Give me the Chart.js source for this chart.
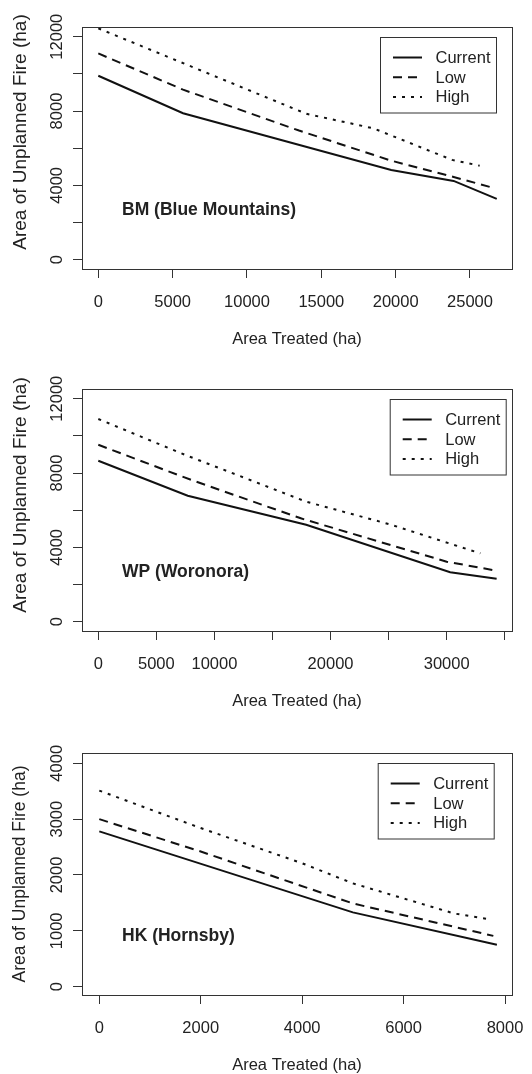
<!DOCTYPE html>
<html>
<head>
<meta charset="utf-8">
<script src="https://cdn.jsdelivr.net/npm/chart.js@4.4.1/dist/chart.umd.min.js"></script>
<style>
  body { margin: 0; background: #fff; }
  canvas { position: absolute; left: 0; }
</style>
</head>
<body>
<canvas id="bm" width="532" height="348" style="top:0px"></canvas>
<canvas id="wp" width="532" height="348" style="top:362px"></canvas>
<canvas id="hk" width="532" height="348" style="top:726px"></canvas>
<script>
// series names
const seriesNames = ["Current", "Low", "High"];

// BM (Blue Mountains)
const bmCurrentX = [0, 5700, 19700, 23900, 26800];
const bmCurrentY = [9900, 7880, 4830, 4240, 3270];
const bmLowX = [0, 5700, 13500, 19700, 23900, 26550];
const bmLowY = [11100, 9150, 6950, 5330, 4450, 3870];
const bmHighX = [0, 14000, 18500, 23800, 25650];
const bmHighY = [12450, 7850, 7070, 5370, 5060];

// WP (Woronora)
const wpCurrentX = [0, 7700, 17900, 30300, 34300];
const wpCurrentY = [8660, 6780, 5220, 2660, 2310];
const wpLowX = [0, 8000, 17500, 30000, 34000];
const wpLowY = [9520, 7630, 5550, 3230, 2780];
const wpHighX = [0, 7500, 17900, 25100, 32900];
const wpHighY = [10910, 8970, 6460, 5240, 3680];

// HK (Hornsby)
const hkCurrentX = [0, 5000, 7840];
const hkCurrentY = [2780, 1330, 750];
const hkLowX = [0, 2000, 5000, 7770];
const hkLowY = [3000, 2420, 1490, 910];
const hkHighX = [0, 2000, 4000, 5000, 7000, 7670];
const hkHighY = [3510, 2840, 2210, 1850, 1310, 1210];

// tick positions and labelled ticks
const bmXTicks = [0, 5000, 10000, 15000, 20000, 25000];
const wpXTicks = [0, 5000, 10000, 15000, 20000, 25000, 30000, 35000];
const hkXTicks = [0, 2000, 4000, 6000, 8000];
const bmXLabels = [0, 5000, 10000, 15000, 20000, 25000];
const wpXLabels = [0, 5000, 10000, 20000, 30000];
const hkXLabels = [0, 2000, 4000, 6000, 8000];
const bmYTicks = [0, 2000, 4000, 6000, 8000, 10000, 12000];
const wpYTicks = [0, 2000, 4000, 6000, 8000, 10000, 12000];
const hkYTicks = [0, 1000, 2000, 3000, 4000];
const bmYLabels = [0, 4000, 8000, 12000];
const wpYLabels = [0, 4000, 8000, 12000];
const hkYLabels = [0, 1000, 2000, 3000, 4000];

const FONT = '"Liberation Sans", Arial, Helvetica, sans-serif';
const TXT = '#222';
Chart.defaults.font.family = FONT;
Chart.defaults.color = TXT;

const dashes = [[], [9, 6], [3, 6]];

function pts(xs, ys) {
  return xs.map((x, i) => ({ x: x, y: ys[i] }));
}

const framePlugin = {
  id: 'frame',
  afterDraw(chart, args, opts) {
    const ctx = chart.ctx;
    const a = chart.chartArea;
    const ys = chart.scales.y;
    ctx.save();
    // plot box
    ctx.strokeStyle = '#333';
    ctx.lineWidth = 1;
    ctx.setLineDash([]);
    ctx.strokeRect(a.left + 0.5, a.top + 0.5, a.right - a.left, a.bottom - a.top);

    // rotated y tick labels
    ctx.fillStyle = TXT;
    ctx.font = '16.5px ' + FONT;
    ctx.textAlign = 'center';
    ctx.textBaseline = 'middle';
    opts.yLabels.forEach(v => {
      const py = ys.getPixelForValue(v);
      ctx.save();
      ctx.translate(57.5, py);
      ctx.rotate(-Math.PI / 2);
      ctx.fillText(String(v), 0, 0);
      ctx.restore();
    });

    // y axis title
    ctx.save();
    ctx.font = opts.yTitleSize + 'px ' + FONT;
    ctx.translate(20.5, opts.yTitleY);
    ctx.rotate(-Math.PI / 2);
    ctx.fillText('Area of Unplanned Fire (ha)', 0, 0);
    ctx.restore();

    // panel name
    ctx.font = 'bold 17.5px ' + FONT;
    ctx.textAlign = 'left';
    ctx.fillText(opts.name, a.left + 40, 210.5);

    // legend
    const bx = a.right - opts.legendRight - 116;
    const by = a.top + 10;
    ctx.strokeStyle = '#333';
    ctx.lineWidth = 1;
    ctx.strokeRect(bx + 0.5, by + 0.5, 116, 75.5);
    ctx.font = '16.5px ' + FONT;
    chart.data.datasets.forEach((ds, i) => {
      const ry = by + 20.5 + i * 19.7;
      ctx.strokeStyle = ds.borderColor;
      ctx.lineWidth = ds.borderWidth;
      ctx.setLineDash(ds.borderDash);
      ctx.beginPath();
      ctx.moveTo(bx + 13, ry);
      ctx.lineTo(bx + 42, ry);
      ctx.stroke();
      ctx.setLineDash([]);
      ctx.fillStyle = TXT;
      ctx.fillText(ds.label, bx + 55.5, ry + 1);
    });
    ctx.restore();
  }
};

function makePanel(id, name, series, xr, yr, xTicks, yTicks, xLabels, yLabels, legendRight, yTitleSize, yTitleY) {
  const datasets = series.map((s, i) => ({
    label: seriesNames[i],
    data: pts(s[0], s[1]),
    showLine: true,
    borderColor: '#111',
    borderWidth: 2,
    borderDash: dashes[i],
    pointRadius: 0,
    tension: 0,
    fill: false
  }));
  return new Chart(document.getElementById(id), {
    type: 'scatter',
    data: { datasets: datasets },
    plugins: [framePlugin],
    options: {
      responsive: false,
      animation: false,
      layout: { padding: { top: 27, right: 20, left: 0, bottom: 0 } },
      plugins: {
        legend: { display: false },
        tooltip: { enabled: false },
        frame: { name: name, yLabels: yLabels, legendRight: legendRight, yTitleSize: yTitleSize, yTitleY: yTitleY }
      },
      scales: {
        x: {
          type: 'linear',
          min: xr[0], max: xr[1],
          afterBuildTicks: s => { s.ticks = xTicks.map(v => ({ value: v })); },
          grid: { drawOnChartArea: false, drawTicks: true, tickLength: 9, color: '#333', lineWidth: 1 },
          border: { display: false },
          ticks: {
            autoSkip: false, maxRotation: 0, minRotation: 0,
            padding: 14.5, color: TXT, font: { size: 16.5 },
            callback: v => xLabels.includes(v) ? String(v) : ''
          },
          title: { display: true, text: 'Area Treated (ha)', color: TXT, font: { size: 16.5, lineHeight: 1 }, padding: 0 },
          afterFit: s => { s.height = 79; s.paddingLeft = 0; s.paddingRight = 0; }
        },
        y: {
          type: 'linear',
          min: yr[0], max: yr[1],
          afterBuildTicks: s => { s.ticks = yTicks.map(v => ({ value: v })); },
          grid: { drawOnChartArea: false, drawTicks: true, tickLength: 9, color: '#333', lineWidth: 1 },
          border: { display: false },
          ticks: { display: false },
          title: { display: false },
          afterFit: s => { s.width = 82; s.paddingTop = 0; s.paddingBottom = 0; }
        }
      }
    }
  });
}

makePanel('bm', 'BM (Blue Mountains)',
  [[bmCurrentX, bmCurrentY], [bmLowX, bmLowY], [bmHighX, bmHighY]],
  [-1096, 27825], [-500, 12522], bmXTicks, bmYTicks, bmXLabels, bmYLabels, 16, 19, 132);
makePanel('wp', 'WP (Woronora)',
  [[wpCurrentX, wpCurrentY], [wpLowX, wpLowY], [wpHighX, wpHighY]],
  [-1404, 35624], [-500, 12522], wpXTicks, wpYTicks, wpXLabels, wpYLabels, 6.3, 19, 133);
makePanel('hk', 'HK (Hornsby)',
  [[hkCurrentX, hkCurrentY], [hkLowX, hkLowY], [hkHighX, hkHighY]],
  [-341, 8138], [-149, 4184], hkXTicks, hkYTicks, hkXLabels, hkYLabels, 18.3, 17.5, 148);
</script>
</body>
</html>
